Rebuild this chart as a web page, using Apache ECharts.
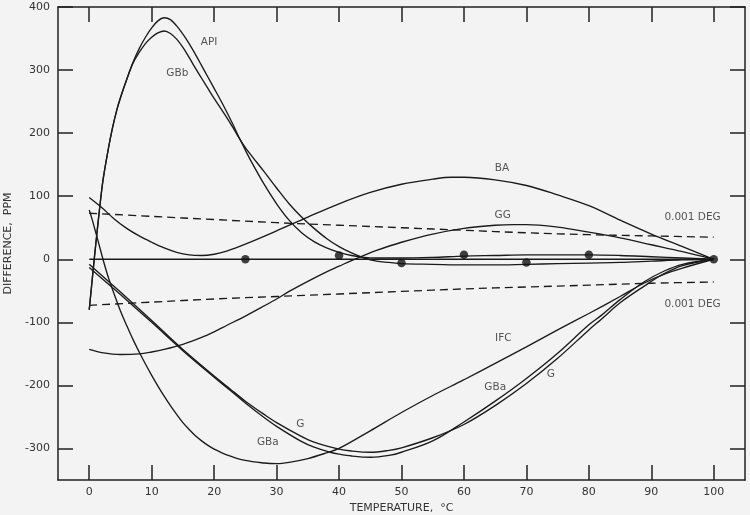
<!DOCTYPE html>
<html><head><meta charset="utf-8">
<script src="https://cdn.jsdelivr.net/npm/echarts@6/dist/echarts.min.js"></script>
<style>html,body{margin:0;padding:0;background:#f3f3f3}#c{width:750px;height:515px}</style>
</head><body><div id="c"></div>
<script>
const xTicks=[0,10,20,30,40,50,60,70,80,90,100];
const yTicks=[-300,-200,-100,0,100,200,300,400];

const curveAPI=[[0,-80],[0.4,-40],[0.8,0],[1.2,38],[1.6,75],[2.2,125],[3,172],[3.7,207],[4.4,236],[5,256],[6,285],[7,312],[8,334],[9,352],[10,367],[11,378],[12,383],[13,380],[14,370],[15,357],[16,342],[17,325],[18,307],[19,289],[20,271],[21,253],[22,234],[23,214],[24,193],[25,173],[26,154],[28,119],[30,88],[32,62],[34,42],[36,28],[38,18],[40,11],[42,6],[44,3],[46,2],[50,2],[55,3],[60,5],[65,6],[70,7],[75,7],[80,7],[85,6],[90,4],[95,2],[100,0]];
const curveGBb=[[0,-80],[0.4,-40],[0.8,0],[1.2,38],[1.6,75],[2.2,125],[3,172],[3.7,207],[4.4,236],[5,256],[6,285],[7,311],[8,328],[9,342],[10,352],[11,359],[12,362],[13,358],[14,349],[15,336],[16,320],[17,303],[18,287],[19,271],[20,255],[21,240],[22,225],[23,209],[24,192],[25,177],[26,164],[28,139],[30,113],[32,88],[34,67],[36,49],[38,33],[40,20],[42,10],[44,2],[46,-3],[48,-5],[50,-7],[55,-8],[60,-9],[65,-9],[70,-8],[75,-7],[80,-6],[85,-5],[90,-3],[95,-1],[100,0]];
const curveBA=[[0,98],[2,82],[4,64],[6,49],[8,37],[10,27],[12,18],[14,11],[16,7],[18,6],[20,8],[22,13],[25,24],[30,45],[35,67],[40,88],[45,106],[50,119],[55,127],[58,130],[60,130],[65,126],[70,117],[75,102],[80,85],[85,62],[90,40],[95,20],[100,0]];
const curveGG=[[0,-143],[2,-148],[5,-151],[8,-150],[10,-147],[12,-143],[15,-135],[18,-124],[20,-115],[22,-105],[25,-90],[28,-74],[30,-63],[32,-51],[35,-35],[38,-20],[40,-11],[42,-2],[44,6],[46,14],[50,27],[55,40],[60,49],[65,54],[68,55],[70,55],[75,51],[80,43],[85,34],[90,23],[95,12],[100,0]];
const curveIFC=[[0,78],[0.5,62],[1,44],[1.5,26],[2.2,0],[3,-27],[3.8,-50],[5,-82],[6,-105],[7,-127],[8,-147],[9,-166],[10,-184],[11,-201],[12,-217],[13,-232],[14,-246],[15,-259],[16,-270],[17,-280],[18,-288],[19,-295],[20,-301],[22,-310],[25,-319],[28,-323],[30,-324],[32,-322],[35,-316],[38,-307],[40,-300],[45,-272],[50,-243],[55,-216],[60,-191],[65,-165],[70,-139],[75,-112],[80,-86],[85,-59],[88.8,-38],[92,-24],[95,-14],[100,0]];
const curveG=[[0,-8],[5,-52],[10,-97],[15,-143],[20,-185],[22.6,-206],[25,-225],[28,-246],[30,-259],[33.8,-280],[36,-290],[40,-301],[42,-304],[45,-306],[48,-303],[50,-299],[55,-283],[60,-262],[65,-232],[70,-197],[75,-157],[80,-112],[82,-95],[85,-69],[88.8,-43],[92,-23],[95,-10],[100,0]];
const curveGBa=[[0,-13],[5,-56],[10,-100],[15,-145],[20,-187],[22.6,-208],[25,-228],[28,-251],[30,-265],[33.8,-288],[36,-298],[38.6,-306],[40,-309],[42,-312],[45,-314],[48,-311],[50,-306],[55,-288],[60,-258],[65,-225],[70,-189],[75,-149],[80,-104],[82,-89],[85,-64],[88.8,-36],[92,-19],[95,-8],[100,0]];
const bandUpper=[[0,73],[10,68],[20,63],[30,58],[40,54],[50,50],[60,46],[70,42],[80,39],[90,37],[100,35]];
const bandLower=[[0,-73],[10,-68],[20,-63],[30,-59],[40,-55],[50,-51],[60,-47],[70,-44],[80,-41],[90,-38],[100,-36]];
const zeroLine=[[0,0],[100,0]];
const dotPoints=[[25,0],[40,6],[50,-6],[60,7],[70,-5],[80,7],[100,0]];

const labelTexts=['API','GBb','BA','GG','0.001 DEG','0.001 DEG','IFC','GBa','G','G','GBa'];
const labelX=[19.2,14.1,66.1,66.2,96.6,96.6,66.3,65,73.9,33.8,28.6];
const labelY=[344,295,144,70,67,-71,-125,-203,-183,-261,-290];

const FONT='DejaVu Sans';
const INK='#1a1a1a';
const chart=echarts.init(document.getElementById('c'));

function lineSeries(name,data,dashed){
  return {name:name,type:'line',data:data,smooth:0.35,showSymbol:false,symbol:'none',
    lineStyle:{color:INK,width:1.35,type:dashed?[8,5]:'solid'},z:2};
}
function xAx(pos,withLabel){
  return {type:'value',min:-5,max:105,position:pos,
    axisLine:{show:true,onZero:false,lineStyle:{color:'#222',width:1.5}},
    axisTick:{show:true,inside:true,length:15,customValues:xTicks,lineStyle:{color:'#222',width:1.5}},
    axisLabel:{show:withLabel,customValues:xTicks,color:'#333',fontSize:11,fontFamily:FONT,margin:7},
    splitLine:{show:false},
    name:withLabel?'TEMPERATURE,  °C':'',nameLocation:'middle',nameGap:22,
    nameTextStyle:{color:'#333',fontSize:11,fontFamily:FONT}};
}
function yAx(pos,withLabel){
  return {type:'value',min:-350,max:400,position:pos,
    axisLine:{show:true,onZero:false,lineStyle:{color:'#222',width:1.5}},
    axisTick:{show:true,inside:true,length:15,customValues:yTicks,lineStyle:{color:'#222',width:1.5}},
    axisLabel:{show:withLabel,customValues:yTicks,color:'#333',fontSize:11,fontFamily:FONT,margin:8},
    splitLine:{show:false},
    name:withLabel?'DIFFERENCE,  PPM':'',nameLocation:'middle',nameGap:43,
    nameTextStyle:{color:'#333',fontSize:11,fontFamily:FONT}};
}

const series=[
  lineSeries('API',curveAPI),
  lineSeries('GBb',curveGBb),
  lineSeries('BA',curveBA),
  lineSeries('GG',curveGG),
  lineSeries('IFC',curveIFC),
  lineSeries('G',curveG),
  lineSeries('GBa',curveGBa),
  lineSeries('+0.001 DEG',bandUpper,true),
  lineSeries('-0.001 DEG',bandLower,true),
  lineSeries('zero',zeroLine),
  {name:'points',type:'scatter',data:dotPoints,symbol:'circle',symbolSize:8.5,itemStyle:{color:'#111'},z:3},
  {name:'labels',type:'scatter',symbolSize:0,z:4,
    data:labelTexts.map((t,i)=>({name:t,value:[labelX[i],labelY[i]]})),
    label:{show:true,position:'inside',formatter:'{b}',color:'#2a2a2a',fontSize:10.5,fontFamily:FONT}}
];

chart.setOption({
  backgroundColor:'#f3f3f3',
  animation:false,
  grid:{left:58,right:5,top:7,bottom:35,containLabel:false,outerBoundsMode:'none'},
  xAxis:[xAx('bottom',true),xAx('top',false)],
  yAxis:[yAx('left',true),yAx('right',false)],
  series:series
});
</script></body></html>
